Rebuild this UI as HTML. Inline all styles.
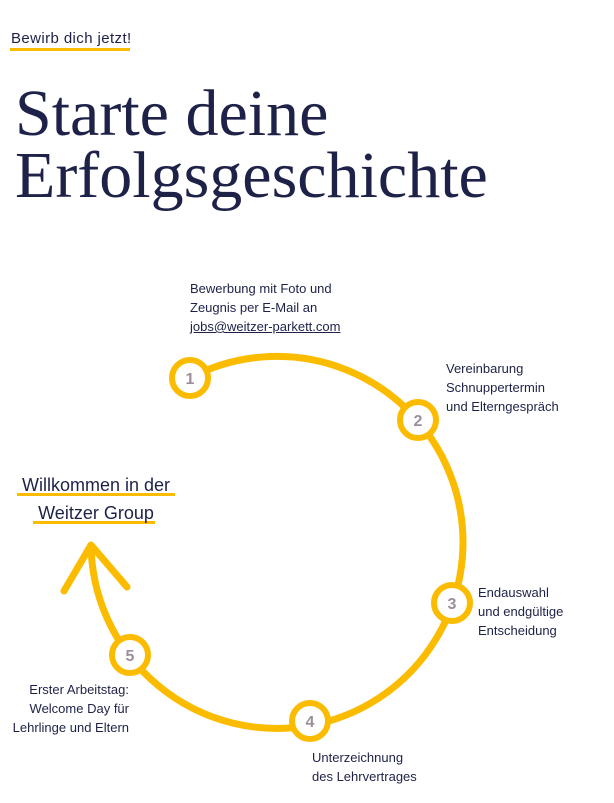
<!DOCTYPE html>
<html><head><meta charset="utf-8"><style>
body{margin:0;width:614px;height:803px;background:#fff;position:relative;overflow:hidden;font-family:"Liberation Sans",sans-serif;color:#1e2248}
.t{position:absolute;font-size:13px;line-height:19px;color:#1e2248}
</style></head><body>
<div style="position:absolute;left:11px;top:30px;font-size:15px;line-height:18px;letter-spacing:0.4px">Bewirb dich jetzt!</div>
<div style="position:absolute;left:10px;top:48px;width:120px;height:3px;background:#fbbc00"></div>
<div style="position:absolute;left:15px;top:83px;font-family:'Liberation Serif',serif;font-size:66px;line-height:62px;color:#1e2248;white-space:nowrap">Starte deine<br>Erfolgsgeschichte</div>
<svg width="614" height="803" style="position:absolute;left:0;top:0">
<path d="M190 378 A186 186 0 1 1 91 545" fill="none" stroke="#fbbc00" stroke-width="7"/>
<polyline points="64,591 91,545 127,587" fill="none" stroke="#fbbc00" stroke-width="7" stroke-linecap="round" stroke-linejoin="round"/>
<g fill="#fff" stroke="#fbbc00" stroke-width="6">
<circle cx="190" cy="378" r="18"/><circle cx="418" cy="420" r="18"/><circle cx="452" cy="603" r="18"/><circle cx="310" cy="721" r="18"/><circle cx="130" cy="655" r="18"/></g>
<g fill="#9a8f99" font-family="Liberation Sans" font-weight="bold" font-size="16" text-anchor="middle">
<text x="190" y="384">1</text><text x="418" y="426">2</text><text x="452" y="609">3</text><text x="310" y="727">4</text><text x="130" y="661">5</text></g>
<rect x="17" y="493" width="158" height="3" fill="#fbbc00"/>
<rect x="33" y="521" width="122" height="3" fill="#fbbc00"/>
</svg>
<div class="t" style="left:190px;top:279px">Bewerbung mit Foto und<br>Zeugnis per E-Mail an<br><span style="text-decoration:underline">jobs@weitzer-parkett.com</span></div>
<div class="t" style="left:446px;top:359px">Vereinbarung<br>Schnuppertermin<br>und Elterngespräch</div>
<div class="t" style="left:478px;top:583px">Endauswahl<br>und endgültige<br>Entscheidung</div>
<div class="t" style="left:312px;top:748px">Unterzeichnung<br>des Lehrvertrages</div>
<div class="t" style="left:0;width:129px;text-align:right;top:680px">Erster Arbeitstag:<br>Welcome Day für<br>Lehrlinge und Eltern</div>
<div style="position:absolute;left:0;width:192px;text-align:center;top:471px;font-size:18px;line-height:28px;color:#1e2248">Willkommen in der<br>Weitzer Group</div>
</body></html>
